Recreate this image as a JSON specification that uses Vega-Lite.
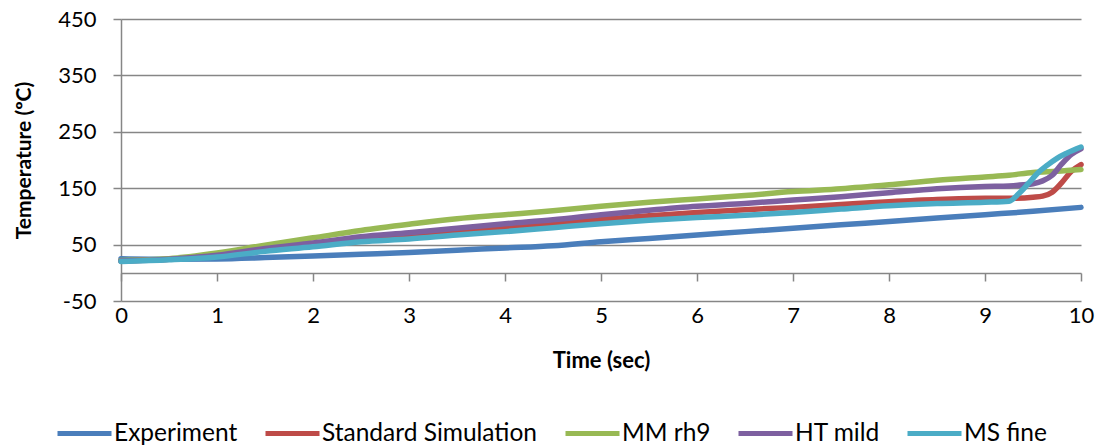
{
  "$schema": "https://vega.github.io/schema/vega-lite/v6.json",
  "width": 960,
  "height": 282,
  "autosize": {"type": "none"},
  "padding": {"left": 121, "top": 19, "right": 21, "bottom": 146},
  "background": "white",
  "config": {
    "font": "Lato",
    "view": {"stroke": null},
    "axis": {"labelFont": "Lato", "titleFont": "Lato", "labelColor": "#000000", "titleColor": "#000000"}
  },
  "datasets": {
    "temps": [
      {"t": 0, "series": "Experiment", "v": 25}, {"t": 0.5, "series": "Experiment", "v": 24}, {"t": 1, "series": "Experiment", "v": 24.5}, {"t": 1.5, "series": "Experiment", "v": 27}, {"t": 2, "series": "Experiment", "v": 30}, {"t": 2.5, "series": "Experiment", "v": 33}, {"t": 3, "series": "Experiment", "v": 36}, {"t": 3.5, "series": "Experiment", "v": 40}, {"t": 4, "series": "Experiment", "v": 44}, {"t": 4.5, "series": "Experiment", "v": 48}, {"t": 5, "series": "Experiment", "v": 55}, {"t": 5.5, "series": "Experiment", "v": 61}, {"t": 6, "series": "Experiment", "v": 67}, {"t": 6.5, "series": "Experiment", "v": 73}, {"t": 7, "series": "Experiment", "v": 79}, {"t": 7.5, "series": "Experiment", "v": 85}, {"t": 8, "series": "Experiment", "v": 91}, {"t": 8.5, "series": "Experiment", "v": 97}, {"t": 9, "series": "Experiment", "v": 103}, {"t": 9.5, "series": "Experiment", "v": 109}, {"t": 10, "series": "Experiment", "v": 116},

      {"t": 0, "series": "Standard Simulation", "v": 21}, {"t": 0.5, "series": "Standard Simulation", "v": 24}, {"t": 1, "series": "Standard Simulation", "v": 30}, {"t": 1.5, "series": "Standard Simulation", "v": 42}, {"t": 2, "series": "Standard Simulation", "v": 51}, {"t": 2.5, "series": "Standard Simulation", "v": 59}, {"t": 3, "series": "Standard Simulation", "v": 66}, {"t": 3.5, "series": "Standard Simulation", "v": 74}, {"t": 4, "series": "Standard Simulation", "v": 80}, {"t": 4.5, "series": "Standard Simulation", "v": 87}, {"t": 5, "series": "Standard Simulation", "v": 95}, {"t": 5.5, "series": "Standard Simulation", "v": 101}, {"t": 6, "series": "Standard Simulation", "v": 107}, {"t": 6.5, "series": "Standard Simulation", "v": 112}, {"t": 7, "series": "Standard Simulation", "v": 116}, {"t": 7.5, "series": "Standard Simulation", "v": 121}, {"t": 8, "series": "Standard Simulation", "v": 126}, {"t": 8.5, "series": "Standard Simulation", "v": 130}, {"t": 9, "series": "Standard Simulation", "v": 132}, {"t": 9.25, "series": "Standard Simulation", "v": 132}, {"t": 9.5, "series": "Standard Simulation", "v": 134}, {"t": 9.6, "series": "Standard Simulation", "v": 136}, {"t": 9.7, "series": "Standard Simulation", "v": 143}, {"t": 9.8, "series": "Standard Simulation", "v": 160}, {"t": 9.9, "series": "Standard Simulation", "v": 180}, {"t": 10, "series": "Standard Simulation", "v": 192},

      {"t": 0, "series": "MM rh9", "v": 22}, {"t": 0.5, "series": "MM rh9", "v": 25}, {"t": 1, "series": "MM rh9", "v": 35}, {"t": 1.5, "series": "MM rh9", "v": 49}, {"t": 2, "series": "MM rh9", "v": 62}, {"t": 2.5, "series": "MM rh9", "v": 75}, {"t": 3, "series": "MM rh9", "v": 86}, {"t": 3.5, "series": "MM rh9", "v": 96}, {"t": 4, "series": "MM rh9", "v": 103}, {"t": 4.5, "series": "MM rh9", "v": 110}, {"t": 5, "series": "MM rh9", "v": 118}, {"t": 5.5, "series": "MM rh9", "v": 125}, {"t": 6, "series": "MM rh9", "v": 131}, {"t": 6.5, "series": "MM rh9", "v": 137}, {"t": 7, "series": "MM rh9", "v": 144}, {"t": 7.5, "series": "MM rh9", "v": 149}, {"t": 8, "series": "MM rh9", "v": 156}, {"t": 8.5, "series": "MM rh9", "v": 164}, {"t": 9, "series": "MM rh9", "v": 170}, {"t": 9.25, "series": "MM rh9", "v": 173}, {"t": 9.5, "series": "MM rh9", "v": 178}, {"t": 9.75, "series": "MM rh9", "v": 180}, {"t": 10, "series": "MM rh9", "v": 183},

      {"t": 0, "series": "HT mild", "v": 21}, {"t": 0.5, "series": "HT mild", "v": 24}, {"t": 1, "series": "HT mild", "v": 31}, {"t": 1.5, "series": "HT mild", "v": 43}, {"t": 2, "series": "HT mild", "v": 53}, {"t": 2.5, "series": "HT mild", "v": 64}, {"t": 3, "series": "HT mild", "v": 71}, {"t": 3.5, "series": "HT mild", "v": 79}, {"t": 4, "series": "HT mild", "v": 87}, {"t": 4.5, "series": "HT mild", "v": 94}, {"t": 5, "series": "HT mild", "v": 103}, {"t": 5.5, "series": "HT mild", "v": 111}, {"t": 6, "series": "HT mild", "v": 118}, {"t": 6.5, "series": "HT mild", "v": 123}, {"t": 7, "series": "HT mild", "v": 129}, {"t": 7.5, "series": "HT mild", "v": 135}, {"t": 8, "series": "HT mild", "v": 142}, {"t": 8.5, "series": "HT mild", "v": 149}, {"t": 9, "series": "HT mild", "v": 153}, {"t": 9.25, "series": "HT mild", "v": 154}, {"t": 9.4, "series": "HT mild", "v": 156}, {"t": 9.5, "series": "HT mild", "v": 158}, {"t": 9.6, "series": "HT mild", "v": 163}, {"t": 9.7, "series": "HT mild", "v": 173}, {"t": 9.8, "series": "HT mild", "v": 193}, {"t": 9.9, "series": "HT mild", "v": 210}, {"t": 10, "series": "HT mild", "v": 220},

      {"t": 0, "series": "MS fine", "v": 20}, {"t": 0.5, "series": "MS fine", "v": 23}, {"t": 1, "series": "MS fine", "v": 28}, {"t": 1.5, "series": "MS fine", "v": 38}, {"t": 2, "series": "MS fine", "v": 46}, {"t": 2.5, "series": "MS fine", "v": 55}, {"t": 3, "series": "MS fine", "v": 60}, {"t": 3.5, "series": "MS fine", "v": 67}, {"t": 4, "series": "MS fine", "v": 73}, {"t": 4.5, "series": "MS fine", "v": 80}, {"t": 5, "series": "MS fine", "v": 87}, {"t": 5.5, "series": "MS fine", "v": 93}, {"t": 6, "series": "MS fine", "v": 98}, {"t": 6.5, "series": "MS fine", "v": 102}, {"t": 7, "series": "MS fine", "v": 107}, {"t": 7.5, "series": "MS fine", "v": 113}, {"t": 8, "series": "MS fine", "v": 119}, {"t": 8.5, "series": "MS fine", "v": 123}, {"t": 9, "series": "MS fine", "v": 125}, {"t": 9.25, "series": "MS fine", "v": 127}, {"t": 9.35, "series": "MS fine", "v": 140}, {"t": 9.45, "series": "MS fine", "v": 158}, {"t": 9.55, "series": "MS fine", "v": 177}, {"t": 9.65, "series": "MS fine", "v": 191}, {"t": 9.75, "series": "MS fine", "v": 203}, {"t": 9.85, "series": "MS fine", "v": 212}, {"t": 10, "series": "MS fine", "v": 223}
    ]
  },
  "data": {"name": "temps"},
  "layer": [
    {
      "mark": {"type": "point", "opacity": 0},
      "encoding": {
        "x": {"field": "t", "type": "quantitative", "scale": {"domain": [0, 10], "nice": false},
          "axis": {"orient": "bottom", "values": [0,1,2,3,4,5,6,7,8,9,10], "offset": -28, "labels": false, "title": null, "grid": false,
            "domain": true, "domainColor": "#868686", "domainWidth": 1.5, "ticks": true, "tickColor": "#868686", "tickWidth": 1.5, "tickSize": 8}},
        "y": {"field": "v", "type": "quantitative", "scale": {"domain": [-50, 450], "nice": false, "zero": false},
          "axis": {"values": [-50, 50, 150, 250, 350, 450], "labelExpr": "replace(datum.label, '−', '-')", "grid": true, "gridColor": "#868686", "gridWidth": 1.5,
            "domain": true, "domainColor": "#868686", "domainWidth": 1.5, "ticks": true, "tickColor": "#868686", "tickWidth": 1.5, "tickSize": 8,
            "labelFontSize": 22, "labelPadding": 17, "title": "Temperature (ºC)", "titleFontSize": 21, "titleFontWeight": "bold", "titlePadding": 23}}
      }
    },
    {
      "mark": {"type": "line", "strokeWidth": 5.5, "interpolate": "monotone", "strokeCap": "round"},
      "encoding": {
        "x": {"field": "t", "type": "quantitative",
          "axis": {"orient": "bottom", "values": [0,1,2,3,4,5,6,7,8,9,10], "labelFlush": false, "domain": false, "ticks": false, "grid": false, "labelFontSize": 22, "labelPadding": 4,
            "title": "Time (sec)", "titleFontSize": 22, "titleFontWeight": "bold", "titlePadding": 24}},
        "y": {"field": "v", "type": "quantitative"},
        "color": {"field": "series", "type": "nominal",
          "scale": {"domain": ["Experiment", "Standard Simulation", "MM rh9", "HT mild", "MS fine"],
                    "range": ["#4A7EBB", "#BE4B48", "#98B954", "#7D60A0", "#4BACC6"]},
          "legend": {"orient": "none", "legendX": -66, "legendY": 385, "direction": "horizontal", "title": null,
            "symbolType": "stroke", "symbolSize": 2916, "symbolStrokeWidth": 5, "labelFontSize": 24.5, "labelOffset": 0, "labelLimit": 400, "columnPadding": 17, "labelFont": "Lato", "labelColor": "#000000"}}
      }
    }
  ],
  "resolve": {"axis": {"x": "independent"}}
}
